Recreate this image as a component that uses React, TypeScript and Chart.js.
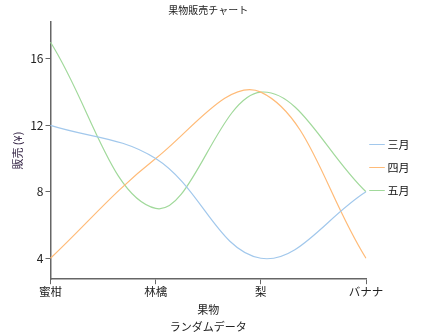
import React, { useEffect, useRef } from "react";
import { Chart, registerables } from "chart.js";

Chart.register(...registerables);

const categories = ["蜜柑", "林檎", "梨", "バナナ"];
const seriesNames = ["三月", "四月", "五月"];
const marchValues = [12, 10, 4, 8];
const aprilValues = [4, 10, 14, 4];
const mayValues = [17, 7, 14, 8];
const yTicks = [4, 8, 12, 16];
const seriesColors = ["#a2c8ec", "#ffbb78", "#a1d99b"];
const FONT = "'Noto Sans CJK JP', 'Noto Sans', sans-serif";

const legendShift = {
  id: "legendShift",
  afterLayout(chart: any) {
    const lg = chart.legend;
    if (lg) {
      lg.left -= 6;
      lg.right -= 6;
    }
  },
};

export default function App() {
  const ref = useRef<HTMLCanvasElement | null>(null);
  useEffect(() => {
    document.body.style.margin = "0";
    const canvas = ref.current;
    if (!canvas) return;
    const values = [marchValues, aprilValues, mayValues];
    const chart = new Chart(canvas, {
      type: "line",
      data: {
        labels: categories,
        datasets: seriesNames.map((name, i) => ({
          label: name,
          data: values[i],
          borderColor: seriesColors[i],
          backgroundColor: seriesColors[i],
          borderWidth: 1.2,
          pointRadius: 0,
          tension: 0.38,
          fill: false,
        })),
      },
      plugins: [legendShift],
      options: {
        animation: false,
        responsive: false,
        devicePixelRatio: 1,
        layout: { padding: { left: 11, right: -4.5, top: 0, bottom: 1 } },
        plugins: {
          title: {
            display: true,
            text: "果物販売チャート",
            fullSize: false,
            color: "#222",
            font: { family: FONT, size: 10, weight: "normal" },
            padding: { top: 4, bottom: 6 },
          },
          legend: {
            position: "right",
            labels: {
              usePointStyle: true,
              pointStyle: "line",
              boxWidth: 10,
              padding: 12,
              color: "#111",
              font: { family: FONT, size: 11 },
            },
          },
          tooltip: { enabled: false },
        },
        scales: {
          x: {
            offset: false,
            grid: { drawOnChartArea: false, drawTicks: true, tickLength: 5, color: "#666" },
            border: { display: true, color: "#666", width: 1.5 },
            ticks: { color: "#222", font: { family: FONT, size: 11.5 }, padding: 1, maxRotation: 0 },
            title: {
              display: true,
              text: ["果物", "ランダムデータ"],
              color: "#222",
              font: { family: FONT, size: 11, lineHeight: 1.5 },
              padding: { top: 2, bottom: 0 },
            },
          },
          y: {
            min: 2.74,
            max: 18.22,
            afterBuildTicks: (scale: any) => {
              scale.ticks = yTicks.map((v) => ({ value: v }));
            },
            grid: { drawOnChartArea: false, drawTicks: true, tickLength: 5, color: "#666" },
            border: { display: true, color: "#666", width: 1.5 },
            ticks: { color: "#222", font: { family: FONT, size: 12 }, padding: 2 },
            title: {
              display: true,
              text: "販売 (¥)",
              color: "#3a2a4a",
              font: { family: FONT, size: 11 },
              padding: { top: 0, bottom: 4 },
            },
          },
        },
      },
    });
    return () => chart.destroy();
  }, []);
  return (
    <div style={{ width: 421, height: 336 }}>
      <canvas ref={ref} width={421} height={336} />
    </div>
  );
}
